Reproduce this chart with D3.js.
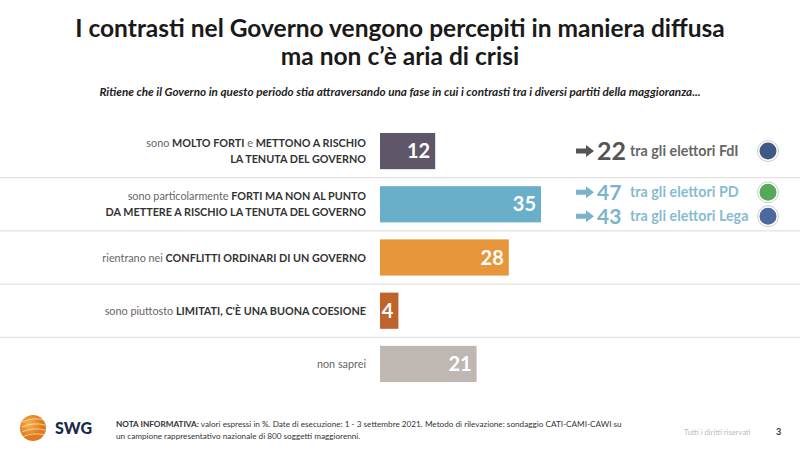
<!DOCTYPE html>
<html><head><meta charset="utf-8">
<script src="https://cdn.jsdelivr.net/npm/d3@7"></script>
<style>body{margin:0;background:#fff}svg{display:block;font-family:Lato,"Open Sans",sans-serif}</style>
</head><body><svg id="c" width="800" height="450"></svg>
<script>
const categories = ["c1","c2","c3","c4","c5"];
const labelLines = [
  [[["sono ",0],["MOLTO FORTI",1],[" e ",0],["METTONO A RISCHIO",1]], [["LA TENUTA DEL GOVERNO",1]]],
  [[["sono particolarmente ",0],["FORTI MA NON AL PUNTO",1]], [["DA METTERE A RISCHIO LA TENUTA DEL GOVERNO",1]]],
  [[["rientrano nei ",0],["CONFLITTI ORDINARI DI UN GOVERNO",1]]],
  [[["sono piuttosto ",0],["LIMITATI, C'È UNA BUONA COESIONE",1]]],
  [[["non saprei",0]]]
];
const values = [12, 35, 28, 4, 21];
const colors = ["#5f5769", "#6aafca", "#e8963b", "#c0622b", "#bfb7b2"];
const notes = [
  {row:0, value:22, text:"tra gli elettori FdI", color:"#555555", dy:0, logo:"#1f3b6e"},
  {row:1, value:47, text:"tra gli elettori PD", color:"#7ab4cb", dy:-12, logo:"#3a9a3a"},
  {row:1, value:43, text:"tra gli elettori Lega", color:"#7ab4cb", dy:12, logo:"#2c4f8c"}
];

const svg = d3.select("#c");
svg.append("text").attr("x",400).attr("y",37).attr("text-anchor","middle")
  .attr("font-size",24.5).attr("font-weight",700).attr("fill","#1a1a1a")
  .text("I contrasti nel Governo vengono percepiti in maniera diffusa");
svg.append("text").attr("x",400).attr("y",65).attr("text-anchor","middle")
  .attr("font-size",24.5).attr("font-weight",700).attr("fill","#1a1a1a")
  .text("ma non c’è aria di crisi");
svg.append("text").attr("x",400).attr("y",96).attr("text-anchor","middle")
  .attr("font-size",11.7).attr("font-weight",700).attr("font-style","italic").attr("fill","#222")
  .text("Ritiene che il Governo in questo periodo stia attraversando una fase in cui i contrasti tra i diversi partiti della maggioranza...");

const y = d3.scaleBand().domain(categories).range([125, 390]).paddingInner(0.32).paddingOuter(0.15);
const x = d3.scaleLinear().domain([0, 35]).range([380, 541]);

const step = y.step();
categories.slice(1).forEach(c=>{
  const yy = y(c) - step*y.paddingInner()/2;
  svg.append("line").attr("x1",0).attr("x2",800).attr("y1",yy).attr("y2",yy)
    .attr("stroke","#e2e2e2").attr("stroke-width",1.2);
});

svg.selectAll("rect.bar").data(values).join("rect").attr("class","bar")
  .attr("x",x(0)).attr("y",(d,i)=>y(categories[i]))
  .attr("width",d=>x(d)-x(0)).attr("height",y.bandwidth())
  .attr("fill",(d,i)=>colors[i]);

svg.selectAll("text.val").data(values).join("text").attr("class","val")
  .attr("x",d=>x(d)-5).attr("y",(d,i)=>y(categories[i])+y.bandwidth()/2+7)
  .attr("text-anchor","end").attr("font-size",20).attr("font-weight",700).attr("fill","#fff")
  .text(d=>d);

labelLines.forEach((lines,i)=>{
  const cy = y(categories[i]) + y.bandwidth()/2;
  const lh = 16;
  lines.forEach((parts,j)=>{
    const t = svg.append("text").attr("x",366)
      .attr("y", cy + (j - (lines.length-1)/2)*lh + 4)
      .attr("text-anchor","end").attr("font-size",10.8);
    parts.forEach(p=>{
      t.append("tspan").text(p[0]).attr("font-weight",p[1]?700:400).attr("fill",p[1]?"#333":"#666");
    });
  });
});

notes.forEach(n=>{
  const cy = y(categories[n.row]) + y.bandwidth()/2 + n.dy;
  const big = n.dy === 0 ? 25 : 21;
  const g = svg.append("g");
  g.append("path").attr("d",`M576,${cy-2.5} L586,${cy-2.5} L586,${cy-6} L594,${cy} L586,${cy+6} L586,${cy+2.5} L576,${cy+2.5} Z`)
    .attr("fill",n.color);
  g.append("text").attr("x",597).attr("y",cy+big*0.35).attr("font-size",big).attr("font-weight",700)
    .attr("fill",n.color).text(n.value);
  g.append("text").attr("x",630).attr("y",cy+5).attr("font-size",14.3).attr("font-weight",700)
    .attr("fill",n.color).attr("opacity",0.9).text(n.text);
  g.append("circle").attr("cx",768).attr("cy",cy).attr("r",10.5)
    .attr("fill","#fff").attr("stroke","#ccc").attr("stroke-width",1);
  g.append("circle").attr("cx",768).attr("cy",cy).attr("r",8.5)
    .attr("fill",n.logo).attr("opacity",0.85);
});

const grad = svg.append("defs").append("radialGradient").attr("id","sg").attr("cx","35%").attr("cy","35%");
grad.append("stop").attr("offset","0%").attr("stop-color","#f7b24a");
grad.append("stop").attr("offset","100%").attr("stop-color","#e07a1c");
svg.append("circle").attr("cx",33).attr("cy",428).attr("r",13).attr("fill","url(#sg)");
[-6,-1,4,9].forEach(o=>svg.append("path").attr("d",`M22,${428+o} Q33,${428+o-5} 45,${428+o-2}`)
  .attr("stroke","#fff").attr("stroke-width",0.8).attr("fill","none").attr("opacity",0.7));
svg.append("text").attr("x",55).attr("y",434).attr("font-size",16).attr("font-weight",900)
  .attr("fill","#1a2a4a").text("SWG");
const n1 = svg.append("text").attr("x",116).attr("y",427).attr("font-size",8.2).attr("fill","#333");
n1.append("tspan").attr("font-weight",700).text("NOTA INFORMATIVA: ");
n1.append("tspan").text("valori espressi in %. Date di esecuzione: 1 - 3 settembre 2021. Metodo di rilevazione: sondaggio CATI-CAMI-CAWI su");
svg.append("text").attr("x",116).attr("y",439).attr("font-size",8.2).attr("fill","#333")
  .text("un campione rappresentativo nazionale di 800 soggetti maggiorenni.");
svg.append("text").attr("x",684).attr("y",435).attr("font-size",7.5).attr("fill","#bbb").text("Tutti i diritti riservati");
svg.append("text").attr("x",776).attr("y",435).attr("font-size",9).attr("font-weight",700).attr("fill","#333").text("3");
</script></body></html>
